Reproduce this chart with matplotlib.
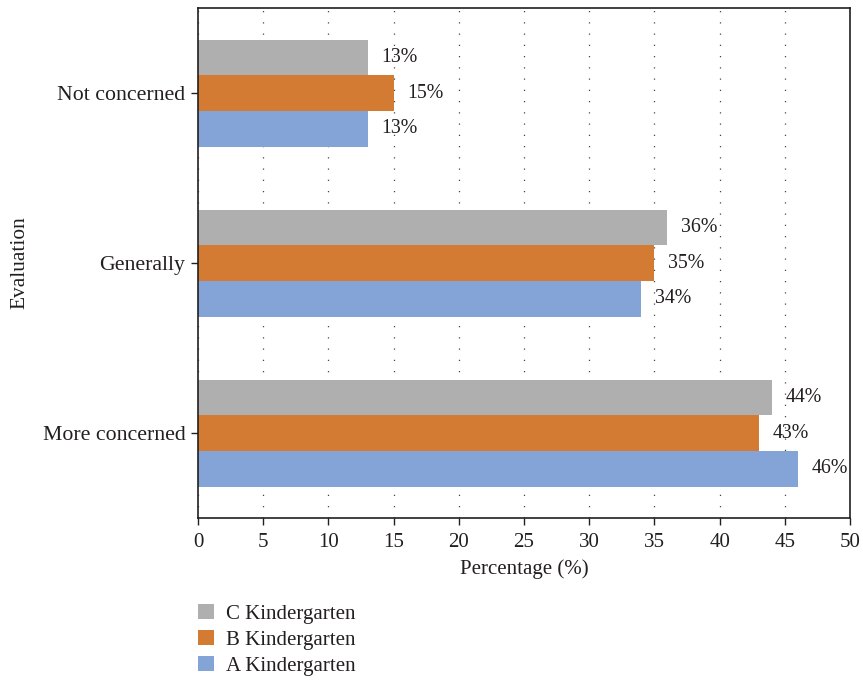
import numpy as np
from matplotlib import pyplot as plt
from matplotlib.patches import Patch

plt.rcParams['font.family'] = ['Liberation Serif', 'DejaVu Serif']

categories = ['More concerned', 'Generally', 'Not concerned']
series_names = ['A Kindergarten', 'B Kindergarten', 'C Kindergarten']
a_values = [46, 34, 13]
b_values = [43, 35, 15]
c_values = [44, 36, 13]
colors = ['#84a4d8', '#d37a33', '#afafaf']
x_ticks = list(range(0, 55, 5))

text_color = '#231f20'
fig = plt.figure(figsize=(8.63, 6.80), dpi=100)
ax = fig.add_axes([0.2294, 0.2382, 0.7556, 0.7498])

y = np.arange(len(categories))
h = 0.21
offsets = [-h, 0, h]
for vals, color, off in zip([a_values, b_values, c_values], colors, offsets):
    bars = ax.barh(y + off, vals, height=h, color=color, zorder=2)
    ax.bar_label(bars, labels=[f'{v}%' for v in vals], padding=10,
                 fontsize=14.3, color=text_color)

ax.set_xlim(0, 50)
ax.set_ylim(-0.5, 2.5)
ax.set_xticks(x_ticks)
ax.set_yticks(y)
ax.set_yticklabels(categories, fontsize=15.7, color=text_color)
ax.tick_params(axis='x', labelsize=15, colors=text_color, length=5, width=1, pad=6)
ax.tick_params(axis='y', length=5, width=1, colors=text_color, pad=4)
ax.xaxis.grid(True, linestyle=(0, (1, 8)), color='#444444', linewidth=0.9, zorder=0)
ax.set_axisbelow(True)
for s in ax.spines.values():
    s.set_linewidth(1.2)
    s.set_color(text_color)

ax.set_xlabel('Percentage (%)', fontsize=15, color=text_color, labelpad=5)
ax.set_ylabel('Evaluation', fontsize=15.4, color=text_color)
ax.yaxis.set_label_coords(-0.258, 0.5)

handles = [Patch(facecolor=c) for c in colors[::-1]]
fig.legend(handles, series_names[::-1], loc='upper left',
           bbox_to_anchor=(0.2294, 0.112), frameon=False, fontsize=15,
           handlelength=0.75, handleheight=0.75, handletextpad=0.6,
           labelspacing=0.3, borderaxespad=0, borderpad=0,
           labelcolor=text_color)

fig.savefig('out.png', dpi=100)
